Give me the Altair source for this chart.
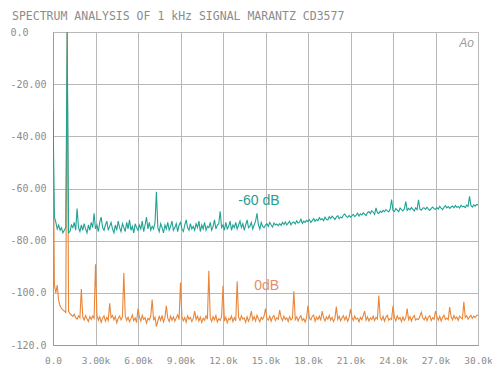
import json
import altair as alt
import pandas as pd

title_text = "SPECTRUM ANALYSIS OF 1 kHz SIGNAL MARANTZ CD3577"
x_ticks = [0, 3, 6, 9, 12, 15, 18, 21, 24, 27, 30]
x_labels = ["0.0", "3.00k", "6.00k", "9.00k", "12.0k", "15.0k", "18.0k",
            "21.0k", "24.0k", "27.0k", "30.0k"]
y_ticks = [0, -20, -40, -60, -80, -100, -120]
y_labels = ["0.0", "-20.00", "-40.00", "-60.00", "-80.00", "-100.0", "-120.0"]

# frequency bins, 0.1 kHz apart, 0 .. 30 kHz
freq_khz = [round(i * 0.1, 1) for i in range(301)]

level_0db = [
    -30, -97, -100, -97, -103, -105, -106, -106.5, -107, -107.5,
    0, -107, -108, -108.5, -109, -108.2, -109.5, -110.1, -108.8, -109.6,
    -98.5, -109.3, -110.4, -108.7, -109.9, -111.0, -109.1, -110.2, -108.9, -109.8,
    -89, -108.6, -110.5, -109.2, -111.3, -109.7, -108.8, -110.9, -109.4, -110.6,
    -104, -109.5, -108.7, -110.3, -109.1, -111.5, -109.8, -108.9, -110.4, -109.3,
    -92.4, -108.8, -110.6, -109.4, -111.1, -109.9, -108.5, -110.7, -109.6, -111.4,
    -106, -109.2, -110.8, -108.6, -110.2, -109.5, -111.6, -109.8, -110.4, -108.9,
    -102.6, -110.5, -109.3, -113.0, -110.8, -109.1, -110.6, -108.7, -111.2, -109.6,
    -105, -109.7, -111.0, -108.9, -110.5, -109.2, -110.9, -109.6, -108.4, -110.3,
    -96, -109.1, -110.7, -109.5, -111.3, -108.8, -110.1, -109.4, -111.0, -109.8,
    -107, -110.2, -108.9, -110.8, -109.3, -111.4, -109.7, -110.5, -108.8, -110.1,
    -91.5, -109.6, -110.9, -109.1, -110.4, -108.7, -111.2, -109.9, -110.6, -109.2,
    -97.3, -110.8, -109.4, -111.5, -109.8, -110.3, -108.9, -111.0, -109.5, -110.7,
    -95.6, -109.3, -110.6, -108.8, -110.1, -109.6, -111.3, -109.2, -110.9, -109.7,
    -107, -110.4, -109.1, -110.8, -108.6, -109.9, -111.1, -109.4, -110.2, -108.9,
    -106, -109.8, -110.5, -109.0, -110.9, -109.3, -108.7, -110.6, -109.5, -110.1,
    -106.6, -109.4, -110.7, -108.9, -110.2, -109.6, -111.0, -109.1, -110.4, -109.8,
    -99.4, -110.3, -109.2, -110.8, -109.5, -108.8, -110.6, -109.9, -111.2, -109.4,
    -104.9, -109.7, -110.4, -109.0, -108.5, -110.9, -109.3, -110.2, -108.9, -110.6,
    -107, -109.5, -110.8, -109.2, -110.1, -108.7, -110.5, -109.4, -111.0, -109.8,
    -105.3, -110.2, -109.0, -110.7, -109.6, -108.8, -110.4, -109.1, -110.9, -109.5,
    -106.2, -109.3, -110.6, -108.9, -110.1, -109.7, -111.1, -109.4, -110.3, -108.7,
    -107, -110.5, -109.2, -110.8, -109.6, -110.2, -108.9, -110.7, -109.4, -110.0,
    -101, -109.6, -110.4, -109.0, -110.9, -109.3, -108.6, -110.5, -109.8, -110.2,
    -105, -109.4, -110.7, -108.8, -110.1, -109.5, -111.0, -109.2, -110.6, -109.7,
    -106, -110.3, -109.1, -110.8, -109.4, -108.7, -110.5, -109.9, -110.2, -108.9,
    -107.5, -109.6, -110.4, -109.1, -110.7, -109.3, -108.8, -110.6, -109.5, -110.1,
    -107, -109.2, -110.5, -109.0, -110.8, -109.4, -108.6, -110.2, -109.7, -110.3,
    -105.5, -109.1, -110.4, -108.7, -109.9, -109.3, -110.6, -108.9, -109.6, -110.0,
    -103.4, -109.4, -108.8, -110.1, -109.2, -108.6, -109.8, -108.9, -109.5, -108.7,
    -108.5,
]

level_m60db = [
    -30, -71, -73, -75.5, -74, -76, -75, -77, -76, -75,
    0, -77, -76.5, -74, -75, -73, -76, -67.7, -75, -76.5,
    -74, -76, -73.5, -75.5, -77, -74, -76, -73, -75, -69.5,
    -75.5, -74, -76.5, -73, -71, -75, -76, -74, -72.5, -76,
    -74.5, -73, -75.5, -77, -74, -76, -72.5, -75, -76.5, -73.5,
    -75, -76.5, -73, -75.5, -72, -76, -74.5, -77, -73.5, -75,
    -76, -74, -75.5, -72.5, -76.5, -74, -71, -75.5, -73, -76,
    -74.5, -75.5, -73, -61.3, -75, -76.5, -73.5, -75, -77, -74,
    -75.5, -73, -76, -74.5, -72.5, -76, -75, -73.5, -76.5, -74,
    -73, -75.5, -76.5, -74, -72, -75, -76, -73.5, -75.5, -74.5,
    -76, -73.5, -75, -72.5, -76.5, -74, -75.5, -73, -76, -74.5,
    -75, -73, -76, -74.5, -72, -75.5, -74, -73.5, -68.7, -75,
    -74, -76, -73, -75.5, -74.5, -72.5, -76, -74, -75, -73,
    -75.5, -74, -72.5, -75, -73.5, -76, -74, -72, -75, -74.5,
    -73, -75.5, -74, -72.5, -69.5, -74, -75.5, -73, -74.5, -75,
    -74, -73.5, -74.5, -73, -74, -74.8, -73.2, -74, -73.6, -74.3,
    -73.5, -74.2, -73, -73.8, -72.8, -74, -73.3, -72.6, -73.9, -73.1,
    -72.8, -73.6, -72.4, -73.2, -72.9, -71.8, -73.4, -72.5, -73, -72.2,
    -72.7, -71.9, -73, -72.3, -71.5, -72.6, -71.8, -72.4, -71.2, -72,
    -71.6, -72.3, -71, -71.8, -72.1, -70.8, -71.5, -70.6, -71.2, -71.9,
    -71, -70.4, -71.6, -70.9, -71.3, -70.2, -69.8, -70.7, -71.1, -70.3,
    -71, -70.5, -69.9, -70.8, -70.2, -69.4, -70.6, -69.7, -70.1, -69.3,
    -69.8, -70.4, -69.2, -68.8, -69.6, -68.5, -69.1, -69.9, -67.4, -69.3,
    -69.6, -68.7, -69.2, -68.4, -68.9, -68.1, -68.6, -69.0, -67.9, -64.2,
    -68.5, -68.8, -67.7, -68.3, -68.9, -67.5, -68.1, -68.6, -67.8, -65.0,
    -68.4, -67.6, -68.2, -67.3, -68.0, -68.6, -67.4, -68.1, -64.3, -67.9,
    -68.3, -67.5, -67.4, -68.0, -67.2, -67.9, -68.4, -67.6, -67.1, -67.8,
    -68.0, -67.3, -67.9, -66.8, -67.5, -68.1, -67.2, -66.6, -67.4, -66.9,
    -67.6, -67.1, -66.7, -67.4, -66.5, -67.2, -66.9, -67.5, -66.4, -67.0,
    -66.8, -67.3, -66.4, -66.9, -63.0, -66.5, -67.1, -66.3, -66.8, -66.2,
    -66.2,
]

ann_text = ["-60 dB", "0dB"]
ann_x = [14.54, 15.08]
ann_y = [-64.9, -97.3]
ann_color = ["#2a9d8f", "#e39068"]

mark_text_str = ["Ao"]
mark_x = [29.2]
mark_y = [-4.2]

COL_0 = "#e8863a"
COL_60 = "#1fa394"
GRID = "#b8b8b8"
LABEL = "#8c8c8c"

df0 = pd.DataFrame({"freq": freq_khz, "level": level_0db})
df60 = pd.DataFrame({"freq": freq_khz, "level": level_m60db})
dfa = pd.DataFrame({"x": ann_x, "y": ann_y, "t": ann_text, "c": ann_color})
dfm = pd.DataFrame({"x": mark_x, "y": mark_y, "t": mark_text_str})

x_expr = f"{json.dumps(x_labels)}[round(datum.value/3)]"
y_expr = f"{json.dumps(y_labels)}[round(-datum.value/20)]"

xenc = alt.X(
    "freq:Q",
    scale=alt.Scale(domain=[0, 30], nice=False, zero=False),
    axis=alt.Axis(values=x_ticks, labelExpr=x_expr, title=None, ticks=False,
                  grid=True, gridColor=GRID, domainColor="#9a9a9a",
                  labelFont="DejaVu Sans Mono", labelFontSize=9.5,
                  labelColor=LABEL, labelPadding=10, labelFlush=False,
                  labelOverlap=False),
)
yenc = alt.Y(
    "level:Q",
    scale=alt.Scale(domain=[-120, 0], nice=False, zero=False),
    axis=alt.Axis(values=y_ticks, labelExpr=y_expr, title=None, ticks=False,
                  grid=True, gridColor=GRID, domainColor="#9a9a9a",
                  labelFont="DejaVu Sans Mono", labelFontSize=10,
                  labelColor=LABEL, labelAlign="left", labelPadding=43,
                  labelOverlap=False),
)

line0 = alt.Chart(df0).mark_line(color=COL_0, strokeWidth=1.1, clip=True).encode(
    x=xenc, y=yenc)
line60 = alt.Chart(df60).mark_line(color=COL_60, strokeWidth=1.1, clip=True).encode(
    x="freq:Q", y="level:Q")

ann = alt.Chart(dfa).mark_text(font="Liberation Sans", fontSize=14,
                               align="center", baseline="middle").encode(
    x="x:Q", y="y:Q", text="t:N", color=alt.Color("c:N", scale=None))

mark = alt.Chart(dfm).mark_text(font="Liberation Sans", fontSize=12,
                                fontStyle="italic", color="#9a9a9a",
                                align="center", baseline="middle").encode(
    x="x:Q", y="y:Q", text="t:N")

chart = alt.layer(line0, line60, ann, mark).properties(
    width=425,
    height=313,
    title=alt.TitleParams(title_text, anchor="start", dx=2, offset=5,
                          font="DejaVu Sans Mono", fontSize=11.5,
                          fontWeight="normal", color=LABEL),
    padding={"left": 45, "top": 24, "right": 14, "bottom": 19},
    autosize=alt.AutoSizeParams(type="none"),
).configure_view(stroke=GRID).configure(background="white")

chart.save("out.html", embed_options={"renderer": "svg", "actions": False})
